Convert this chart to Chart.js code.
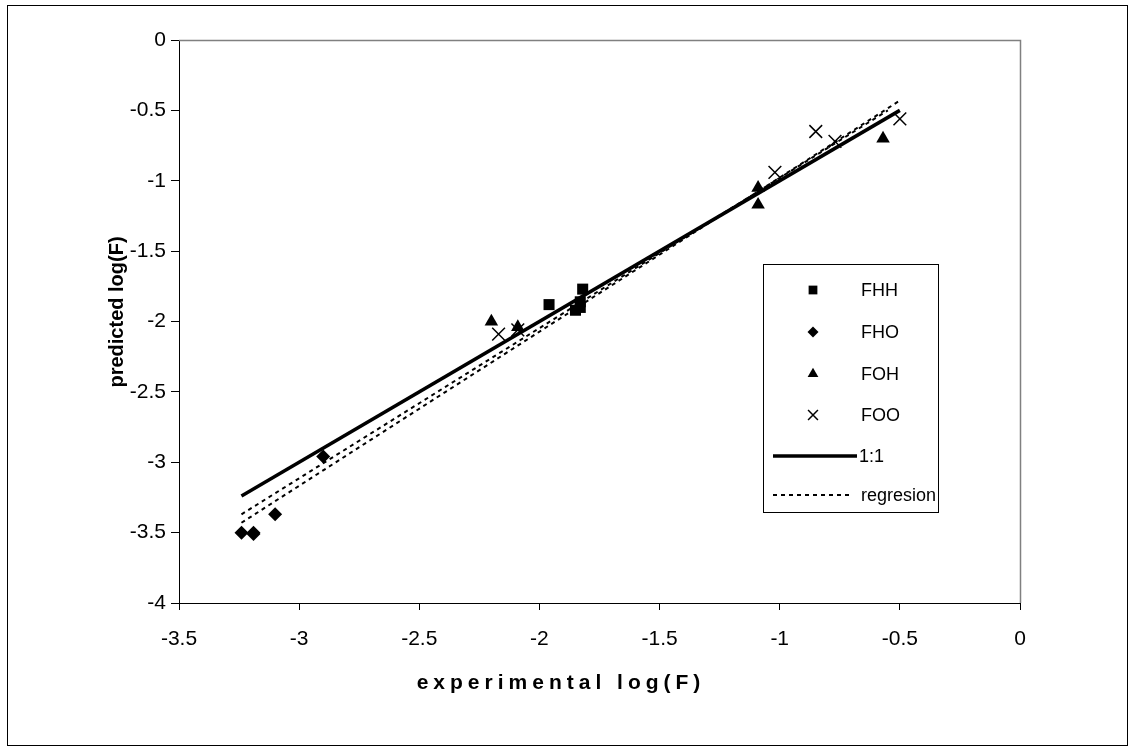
<!DOCTYPE html>
<html><head><meta charset="utf-8">
<script src="https://cdn.jsdelivr.net/npm/chart.js@4"></script>
<style>html,body{margin:0;padding:0;background:#fff}#wrap{width:1130px;height:751px}</style>
</head><body><div id="wrap"><canvas id="c" width="1130" height="751"></canvas></div>
<script>
// ---- data ----
const fhhX = [-1.96, -1.85, -1.83, -1.82, -1.83];
const fhhY = [-1.88, -1.92, -1.90, -1.77, -1.86];
const fhoX = [-3.24, -3.19, -3.19, -3.10, -2.90];
const fhoY = [-3.50, -3.50, -3.51, -3.37, -2.96];
const fohX = [-2.20, -2.09, -1.09, -1.09, -0.57];
const fohY = [-2.00, -2.04, -1.05, -1.17, -0.70];
const fooX = [-2.17, -2.09, -1.02, -0.85, -0.77, -0.50];
const fooY = [-2.09, -2.06, -0.94, -0.65, -0.72, -0.56];
const oneX = [-3.24, -0.50];
const oneY = [-3.24, -0.50];
const regX = [-3.24, -0.50];
const regY = [-3.43, -0.43];
const reg2X = [-3.24, -0.55];
const reg2Y = [-3.37, -0.50];
const xTicks = [-3.5, -3, -2.5, -2, -1.5, -1, -0.5, 0];
const yTicks = [0, -0.5, -1, -1.5, -2, -2.5, -3, -3.5, -4];
const xTitle = 'experimental log(F)';
const yTitle = 'predicted log(F)';

const pts = (xs, ys) => xs.map((x, i) => ({x, y: ys[i]}));
const FONT = '"Liberation Sans", Arial, sans-serif';

const datasets = [
  {label:'FHH', data:pts(fhhX,fhhY), pointStyle:'rect', pointRadius:7.8, legendRadius:6.2, backgroundColor:'#000', borderColor:'#000', borderWidth:0, showLine:false, order:1},
  {label:'FHO', data:pts(fhoX,fhoY), pointStyle:'rectRot', pointRadius:7, legendRadius:5.5, backgroundColor:'#000', borderColor:'#000', borderWidth:0, showLine:false, order:1},
  {label:'FOH', data:pts(fohX,fohY), pointStyle:'triangle', pointRadius:7.8, legendRadius:6.2, backgroundColor:'#000', borderColor:'#000', borderWidth:0, showLine:false, order:1},
  {label:'FOO', data:pts(fooX,fooY), pointStyle:'crossRot', pointRadius:9, legendRadius:7, backgroundColor:'#000', borderColor:'#000', borderWidth:1.5, showLine:false, order:1},
  {label:'1:1', data:pts(oneX,oneY), showLine:true, pointRadius:0, borderColor:'#000', borderWidth:3.5, order:2},
  {label:'regresion', data:pts(regX,regY), showLine:true, pointRadius:0, borderColor:'#000', borderWidth:2, borderDash:[4,4], order:3},
  {label:'', hideLegend:true, data:pts(reg2X,reg2Y), showLine:true, pointRadius:0, borderColor:'#000', borderWidth:2, borderDash:[4,4], order:3}
];

const decor = {
  id:'decor',
  afterDraw(chart){
    const ctx = chart.ctx, a = chart.chartArea;
    ctx.save();
    // outer border
    ctx.strokeStyle = '#000'; ctx.lineWidth = 1;
    ctx.strokeRect(7.5, 5.5, 1120, 740);
    // plot area top/right border
    ctx.strokeStyle = '#808080'; ctx.lineWidth = 1.5;
    ctx.beginPath();
    ctx.moveTo(a.left, a.top + 0.5); ctx.lineTo(a.right + 0.5, a.top + 0.5); ctx.lineTo(a.right + 0.5, a.bottom);
    ctx.stroke();
    // axis titles
    ctx.fillStyle = '#000';
    ctx.textAlign = 'center'; ctx.textBaseline = 'middle';
    ctx.font = 'bold 21px ' + FONT;
    ctx.letterSpacing = '5px';
    ctx.fillText(xTitle, 561, 683);
    ctx.letterSpacing = '0px';
    ctx.font = 'bold 20px ' + FONT;
    ctx.save();
    ctx.translate(117, 312); ctx.rotate(-Math.PI / 2);
    ctx.fillText(yTitle, 0, 0);
    ctx.restore();
    // legend
    const L = 763, T = 264, R = 938, B = 512;
    ctx.fillStyle = '#fff'; ctx.fillRect(L, T, R - L, B - T);
    ctx.strokeStyle = '#000'; ctx.lineWidth = 1;
    ctx.strokeRect(L + 0.5, T + 0.5, R - L, B - T);
    const rows = [290, 332, 374, 415, 456, 495];
    const items = chart.data.datasets.filter(d => !d.hideLegend);
    ctx.font = '18px ' + FONT; ctx.textAlign = 'left'; ctx.textBaseline = 'middle';
    items.forEach((d, i) => {
      const y = rows[i];
      ctx.fillStyle = '#000'; ctx.strokeStyle = '#000';
      if (d.showLine) {
        ctx.lineWidth = d.borderWidth;
        ctx.setLineDash(d.borderDash || []);
        ctx.beginPath(); ctx.moveTo(773, y); ctx.lineTo(i === 4 ? 857 : 851, y); ctx.stroke();
        ctx.setLineDash([]);
        ctx.fillText(d.label, i === 4 ? 859 : 861, y + 1);
      } else {
        ctx.lineWidth = d.borderWidth;
        Chart.helpers.drawPoint(ctx, {pointStyle:d.pointStyle, radius:d.legendRadius, rotation:0, borderWidth:d.borderWidth}, 813, y);
        ctx.fillText(d.label, 861, y + 1);
      }
    });
    ctx.restore();
  }
};

new Chart(document.getElementById('c'), {
  type:'scatter',
  data:{datasets},
  options:{
    responsive:false, animation:false, devicePixelRatio:1,
    layout:{padding:{left:10, right:110, top:40, bottom:0}},
    plugins:{legend:{display:false}, tooltip:{enabled:false}},
    scales:{
      x:{
        type:'linear', min:-3.5, max:0,
        afterBuildTicks(s){ s.ticks = xTicks.map(v => ({value:v})); },
        afterFit(s){ s.height = 148; },
        grid:{display:true, drawOnChartArea:false, drawTicks:true, tickLength:7, color:'#000'},
        border:{display:true, color:'#000', width:1},
        ticks:{color:'#000', font:{family:FONT, size:21}, padding:17, maxRotation:0, callback:v => String(v)},
        title:{display:false}
      },
      y:{
        type:'linear', min:-4, max:0,
        afterBuildTicks(s){ s.ticks = yTicks.map(v => ({value:v})); },
        afterFit(s){ s.width = 169; },
        grid:{display:true, drawOnChartArea:false, drawTicks:true, tickLength:8, color:'#000'},
        border:{display:true, color:'#000', width:1},
        ticks:{color:'#000', font:{family:FONT, size:21}, padding:5, callback:v => String(v)},
        title:{display:false}
      }
    }
  },
  plugins:[decor]
});
</script>
</body></html>
